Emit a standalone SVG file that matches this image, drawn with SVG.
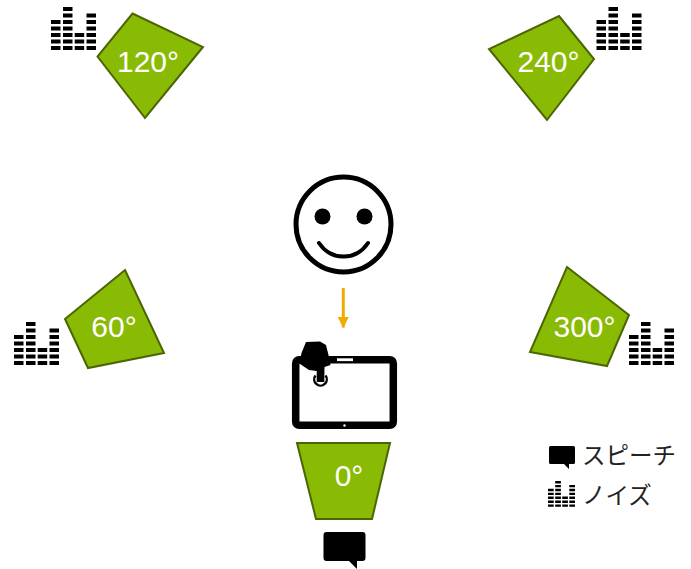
<svg xmlns="http://www.w3.org/2000/svg" width="691" height="569" viewBox="0 0 691 569">
<style>
.sector{fill:#8abb04;stroke:#4b6505;stroke-width:2;stroke-linejoin:miter}
.deg{font-family:"Liberation Sans",Arial,sans-serif;font-size:30px;fill:#fff;text-anchor:middle}
.leg{font-family:"Noto Sans CJK JP",sans-serif;font-size:23.500px;fill:#222}
</style>
<defs>
<g id="noise">
<path d="M0 13h9.500v4H0zM0 19.500h9.500v4H0zM0 26h9.500v4H0zM0 32.500h9.500v4H0zM0 39h9.500v4H0z"/>
<path d="M12 0h9.500v4H12zM12 6.500h9.500v4H12zM12 13h9.500v4H12zM12 19.500h9.500v4H12zM12 26h9.500v4H12zM12 32.500h9.500v4H12zM12 39h9.500v4H12z"/>
<path d="M23.700 26h9.500v4h-9.500zM23.700 32.500h9.500v4h-9.500zM23.700 39h9.500v4h-9.500z"/>
<path d="M35.500 6.500H45v4h-9.500zM35.500 13H45v4h-9.500zM35.500 19.500H45v4h-9.500zM35.500 26H45v4h-9.500zM35.500 32.500H45v4h-9.500zM35.500 39H45v4h-9.500z"/>
</g>
<marker id="ah" markerWidth="11" markerHeight="11" refX="10.500" refY="5.500" orient="auto" markerUnits="userSpaceOnUse"><path d="M0 0L11 5.500L0 11z" fill="#f0ab00"/></marker>
</defs>

<g id="connectors">
<line x1="343.300" y1="288" x2="343.300" y2="327.500" stroke="#f0ab00" stroke-width="3" marker-end="url(#ah)"/>
</g>

<g id="sector-120"><path class="sector" d="M132.500 13.500L203 47L145 118L97.500 56.500z"/><text class="deg" x="148" y="72">120°</text></g>
<g id="sector-240"><path class="sector" d="M559 16L594 59L547 120L489 49z"/><text class="deg" x="548.500" y="72">240°</text></g>
<g id="sector-60"><path class="sector" d="M125 270L164 353L88 368L65 319z"/><text class="deg" x="114" y="337">60°</text></g>
<g id="sector-300"><path class="sector" d="M567 267L629 315L607 366L530 352z"/><text class="deg" x="584.500" y="337">300°</text></g>
<g id="sector-0"><path class="sector" d="M297 443H390L372 519H316z"/><text class="deg" x="349" y="485.500">0°</text></g>

<g id="noise-120"><use href="#noise" x="51" y="7"/></g>
<g id="noise-240"><use href="#noise" x="596.500" y="7"/></g>
<g id="noise-60"><use href="#noise" x="14" y="322"/></g>
<g id="noise-300"><use href="#noise" x="629" y="322"/></g>

<g id="face">
<circle cx="343.500" cy="224.500" r="47.500" fill="#fff" stroke="#000" stroke-width="5"/>
<circle cx="322.500" cy="216.500" r="8"/>
<circle cx="364.500" cy="216.500" r="8"/>
<path d="M319 243C331 261 356 261 368 243" fill="none" stroke="#000" stroke-width="4" stroke-linecap="round"/>
</g>

<g id="tablet">
<rect x="295.700" y="359.700" width="97.600" height="65.600" rx="3.500" fill="#fff" stroke="#000" stroke-width="7.500"/>
<rect x="337" y="358.300" width="16" height="2.800" fill="#fff"/>
<circle cx="344.500" cy="425.500" r="1.200" fill="#fff"/>
<path d="M306 342L320 341.500L326 345L328.500 355L330.500 365L324.500 367L324.300 382H316.700L316.700 371L309 370L299.300 363.500L301.500 353Z"/>
<path d="M315.500 375.500A6.300 6.300 0 1 0 325.500 375.500" fill="none" stroke="#000" stroke-width="2.400"/>
</g>

<g id="speech">
<path d="M326.500 532H362.500Q365.500 532 365.500 535V558Q365.500 561 362.500 561H357V569L349 561H326.500Q323.500 561 323.500 558V535Q323.500 532 326.500 532Z"/>
</g>

<g id="legend-speech">
<path d="M550.500 446H573.500Q575 446 575 447.500V462.500Q575 464 573.500 464H569V469L564 464H550.500Q549 464 549 462.500V447.500Q549 446 550.500 446Z"/>
<text class="leg" x="582" y="464">スピーチ</text>
</g>
<g id="legend-noise">
<use href="#noise" transform="translate(548,481) scale(0.6)"/>
<text class="leg" x="582" y="504">ノイズ</text>
</g>
</svg>
